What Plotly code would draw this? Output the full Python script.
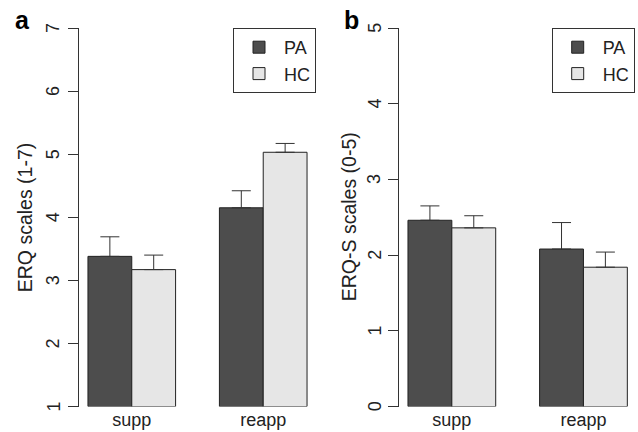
import plotly.graph_objects as go

groups = ["supp", "reapp"]
series = ["PA", "HC"]
erq_pa = [3.38, 4.15]
erq_pa_err = [3.69, 4.42]
erq_hc = [3.17, 5.03]
erq_hc_err = [3.40, 5.17]
erqs_pa = [2.46, 2.08]
erqs_pa_err = [2.65, 2.43]
erqs_hc = [2.36, 1.84]
erqs_hc_err = [2.52, 2.04]
erq_ticks = [1, 2, 3, 4, 5, 6, 7]
erqs_ticks = [0, 1, 2, 3, 4, 5]
colors = {"PA": "#4d4d4d", "HC": "#e6e6e6"}

# R barplot(beside=TRUE) positions: groups centred at 2 and 5
centers = [2, 5]
x_pa = [c - 0.5 for c in centers]
x_hc = [c + 0.5 for c in centers]

W, H = 638, 432
fig = go.Figure()

def add_panel(xa, ya, legend, base, pa, pa_top, hc, hc_top):
    for name, xs, vals, tops in (("PA", x_pa, pa, pa_top), ("HC", x_hc, hc, hc_top)):
        fig.add_trace(go.Bar(
            x=xs, y=[v - base for v in vals], base=base, width=1, name=name,
            xaxis=xa, yaxis=ya, legend=legend,
            marker=dict(color=colors[name], line=dict(color="#222222", width=1)),
            error_y=dict(type="data", symmetric=False,
                         array=[t - v for t, v in zip(tops, vals)],
                         arrayminus=[0, 0], color="#333333", thickness=1, width=9.5),
            hoverinfo="skip",
        ))

add_panel("x", "y", "legend", 1, erq_pa, erq_pa_err, erq_hc, erq_hc_err)
add_panel("x2", "y2", "legend2", 0, erqs_pa, erqs_pa_err, erqs_hc, erqs_hc_err)

ytop = 1 - 28 / H
ybot = 1 - 406.5 / H
FAM = "Liberation Sans, Arial, sans-serif"
font = dict(family=FAM, size=18, color="#222222")
tfont = dict(family=FAM, size=18, color="#222222")

xcommon = dict(range=[0.8, 6.2], tickvals=centers, ticktext=groups, ticks="",
               showline=False, showgrid=False, zeroline=False, tickfont=font,
               fixedrange=True, automargin=False)
ycommon = dict(showline=True, linecolor="#333333", linewidth=1, ticks="outside",
               ticklen=10, tickcolor="#333333", showgrid=False, showticklabels=False,
               zeroline=False, fixedrange=True, automargin=False)

legcommon = dict(bgcolor="white", bordercolor="#333333", borderwidth=1,
                 font=font, xanchor="right", yanchor="top", y=ytop,
                 tracegroupgap=0, itemclick=False, itemwidth=40)

# rotated (R las=0 style) y tick labels, placed on the axes' own scales
tick_annotations = []
for yref, ticks, xpx in (("y", erq_ticks, 53), ("y2", erqs_ticks, 374.7)):
    for t in ticks:
        tick_annotations.append(dict(
            text=str(t), x=xpx / W, xref="paper", y=t, yref=yref,
            xanchor="center", yanchor="middle", textangle=-90,
            showarrow=False, font=tfont))

fig.update_layout(
    width=W, height=H, margin=dict(l=0, r=0, t=0, b=0),
    paper_bgcolor="white", plot_bgcolor="white", barmode="overlay",
    showlegend=True,
    xaxis=dict(domain=[79.2 / W, 315.8 / W], anchor="y", **xcommon),
    yaxis=dict(domain=[ybot, ytop], range=[1, 7], tickvals=erq_ticks, anchor="x", **ycommon),
    xaxis2=dict(domain=[399.2 / W, 636.1 / W], anchor="y2", **xcommon),
    yaxis2=dict(domain=[ybot, ytop], range=[0, 5], tickvals=erqs_ticks, anchor="x2", **ycommon),
    legend=dict(x=316 / W, **legcommon),
    legend2=dict(x=634.7 / W, **legcommon),
    annotations=tick_annotations + [
        dict(text="ERQ scales (1-7)", x=25 / W, y=(ybot + ytop) / 2, xref="paper", yref="paper",
             xanchor="center", yanchor="middle",
             textangle=-90, showarrow=False, font=dict(family=FAM, size=19.5, color="#222222")),
        dict(text="ERQ-S scales (0-5)", x=349 / W, y=(ybot + ytop) / 2, xref="paper", yref="paper",
             xanchor="center", yanchor="middle",
             textangle=-90, showarrow=False, font=dict(family=FAM, size=19.5, color="#222222")),
        dict(text="<b>a</b>", x=22 / W, y=1 - 20 / H, xref="paper", yref="paper",
             xanchor="center", yanchor="middle",
             showarrow=False, font=dict(family=FAM, size=25, color="black")),
        dict(text="<b>b</b>", x=351 / W, y=1 - 20 / H, xref="paper", yref="paper",
             xanchor="center", yanchor="middle",
             showarrow=False, font=dict(family=FAM, size=25, color="black")),
    ],
)

fig.write_html("out.html", config={"displayModeBar": False},
               post_script="document.body.style.margin='0';")
